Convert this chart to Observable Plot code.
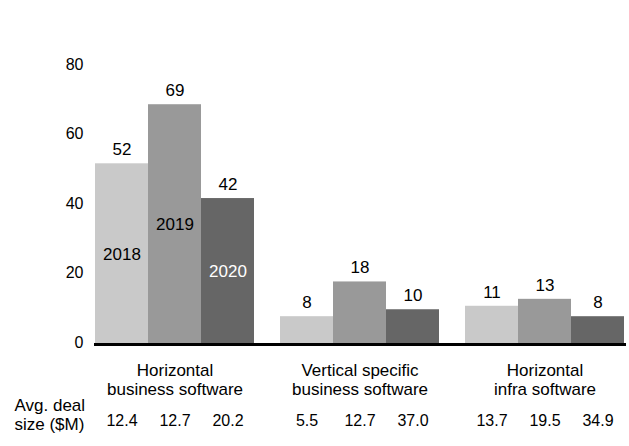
<!DOCTYPE html>
<html><head><meta charset="utf-8">
<script src="https://cdn.jsdelivr.net/npm/d3@7"></script>
<script src="https://cdn.jsdelivr.net/npm/@observablehq/plot@0.6"></script>
<style>html,body{margin:0;padding:0;background:#fff} svg{display:block}</style>
</head><body><div id="chart"></div>
<script>
const categories = ["Horizontal\nbusiness software", "Vertical specific\nbusiness software", "Horizontal\ninfra software"];
const years = ["2018", "2019", "2020"];
const deals2018 = [52, 8, 11];
const deals2019 = [69, 18, 13];
const deals2020 = [42, 10, 8];
const avg2018 = [12.4, 5.5, 13.7];
const avg2019 = [12.7, 12.7, 19.5];
const avg2020 = [20.2, 37.0, 34.9];
const yTicks = [0, 20, 40, 60, 80];
const colors = ["#c9c9c9", "#999999", "#666666"];
const avgLabel = "Avg. deal\nsize ($M)";

const dealsByYear = [deals2018, deals2019, deals2020];
const avgByYear = [avg2018, avg2019, avg2020];
const rows = categories.flatMap((c, i) => years.map((y, j) => ({
  category: c, year: y, value: dealsByYear[j][i], avg: avgByYear[j][i]
})));
const firstGroup = rows.filter(d => d.category === categories[0]);

const chart = Plot.plot({
  width: 629, height: 446,
  marginLeft: 94, marginRight: 4, marginTop: 66, marginBottom: 102,
  style: {fontFamily: "'Liberation Sans', Arial, sans-serif", fontSize: "17px", color: "#000", background: "#fff"},
  fx: {domain: categories, paddingInner: 0.14, paddingOuter: 0, axis: null, label: null},
  x: {domain: years, padding: 0, axis: null, label: null},
  y: {domain: [0, 80], axis: null},
  color: {domain: years, range: colors},
  marks: [
    Plot.axisY(yTicks, {tickSize: 0, tickPadding: 12, fontSize: 16, label: null, dy: -2}),
    Plot.barY(rows, {fx: "category", x: "year", y: "value", fill: "year"}),
    Plot.frame({facet: "super", anchor: "bottom", stroke: "#000", strokeWidth: 3}),
    Plot.text(rows, {fx: "category", x: "year", y: "value", text: d => String(d.value), dy: -14, fill: "#000", fontSize: 17}),
    Plot.text(firstGroup.filter(d => d.year !== "2020"), {fx: "category", x: "year", y: d => d.value / 2, text: "year", fill: "#000", fontSize: 17}),
    Plot.text(firstGroup.filter(d => d.year === "2020"), {fx: "category", x: "year", y: d => d.value / 2, text: "year", fill: "#fff", fontSize: 17}),
    Plot.text(categories, {fx: d => d, text: d => d, frameAnchor: "bottom", dy: 18, lineAnchor: "top", lineHeight: 1.12, fill: "#000", fontSize: 17}),
    Plot.text(rows, {fx: "category", x: "year", text: d => d.avg.toFixed(1), frameAnchor: "bottom", dy: 81, fill: "#000", fontSize: 16}),
    Plot.text([categories[0]], {fx: d => d, text: () => avgLabel, frameAnchor: "bottom-left", dx: -81, dy: 85, textAnchor: "start", lineHeight: 1.06, fill: "#000", fontSize: 17})
  ]
});
document.getElementById("chart").appendChild(chart);
</script>
</body></html>
